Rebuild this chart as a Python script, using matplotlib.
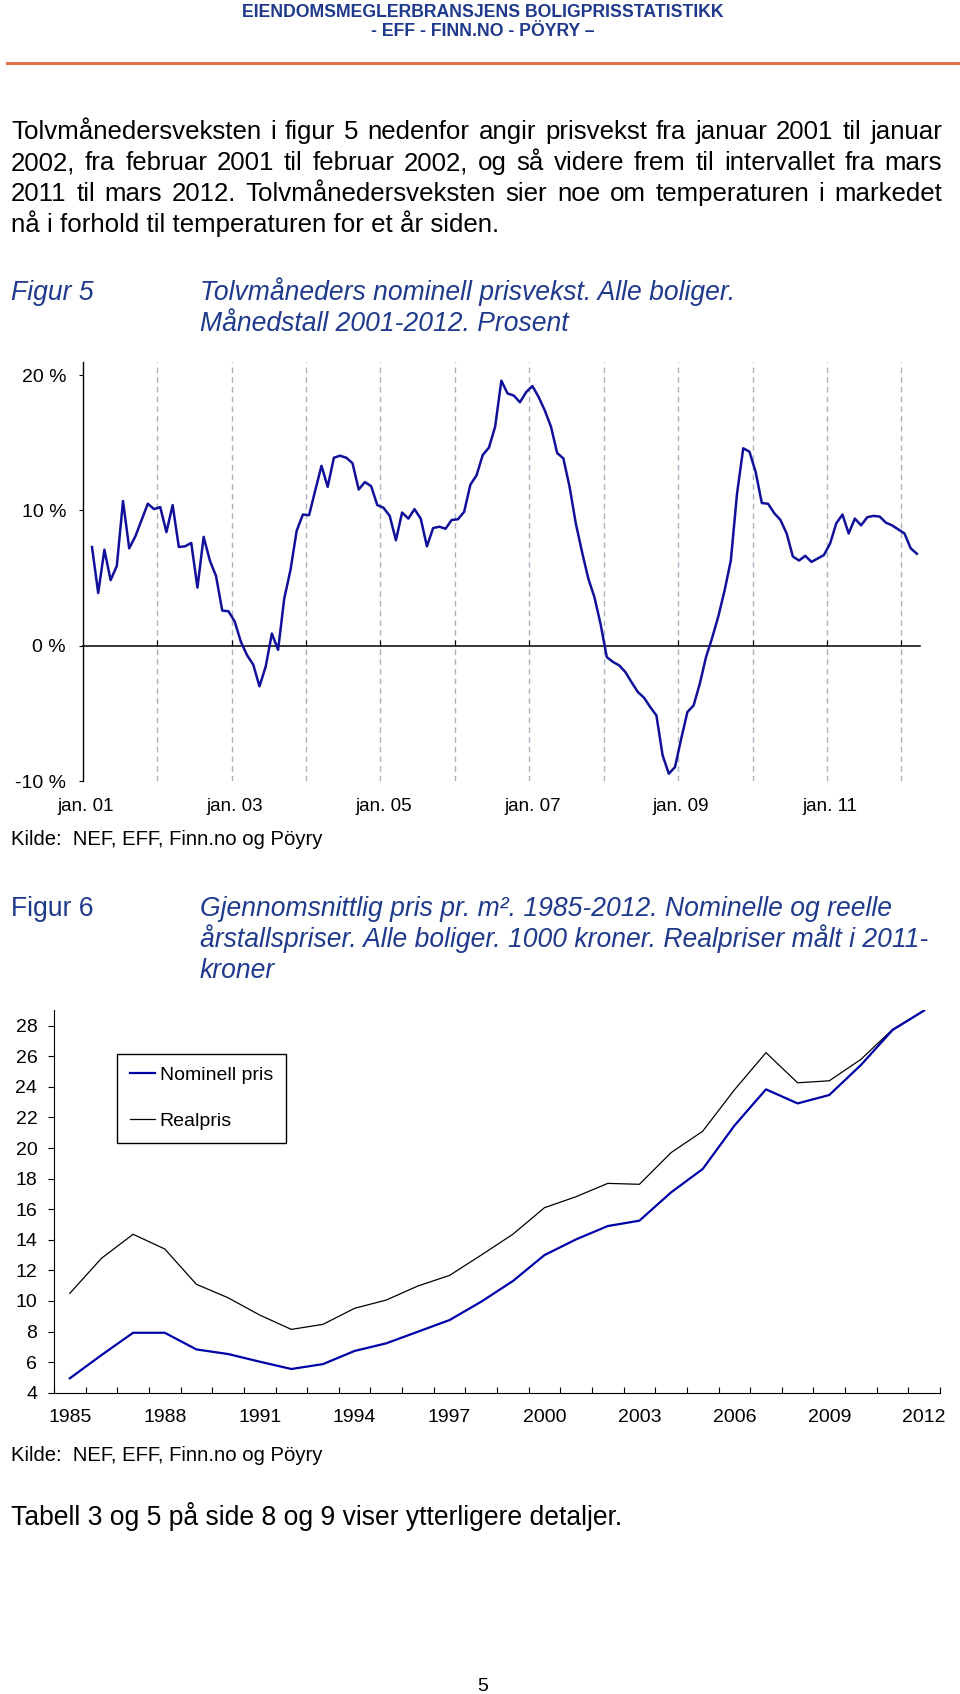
import numpy as np
import matplotlib.pyplot as plt

plt.rcParams['font.family'] = ['Liberation Sans', 'DejaVu Sans']
plt.rcParams['axes.unicode_minus'] = False

W, H = 960, 1694
BLUE_TXT = '#1f3a8c'
BIG = 19.1

# Figur 5: tolvmåneders prisvekst (prosent), en verdi per måned, første verdi feb. 01
maaned = np.arange(1, 135)
vekst = [7.3, 3.9, 7.1, 4.85, 5.9, 10.7, 7.2, 8.1, 9.3, 10.5,
         10.1, 10.25, 8.4, 10.4, 7.3, 7.35, 7.6, 4.3, 8.05, 6.3,
         5.15, 2.6, 2.55, 1.8, 0.3, -0.7, -1.4, -3.0, -1.55, 0.9,
         -0.3, 3.5, 5.6, 8.5, 9.7, 9.65, 11.5, 13.3, 11.75, 13.9,
         14.05, 13.9, 13.5, 11.55, 12.1, 11.8, 10.4, 10.2, 9.6, 7.8,
         9.85, 9.4, 10.1, 9.4, 7.35, 8.7, 8.8, 8.65, 9.3, 9.35,
         9.9, 11.9, 12.6, 14.1, 14.65, 16.2, 19.6, 18.65, 18.5, 18.0,
         18.75, 19.2, 18.4, 17.4, 16.2, 14.25, 13.85, 11.75, 9.05, 6.95,
         5.0, 3.6, 1.6, -0.84, -1.2, -1.45, -1.95, -2.7, -3.42, -3.84,
         -4.53, -5.15, -8.1, -9.46, -8.97, -6.87, -4.9, -4.41, -2.8, -0.84,
         0.6, 2.2, 4.1, 6.3, 11.25, 14.6, 14.35, 12.85, 10.55, 10.5,
         9.8, 9.3, 8.3, 6.6, 6.3, 6.65, 6.2, 6.45, 6.7, 7.55,
         9.05, 9.7, 8.3, 9.4, 8.9, 9.5, 9.6, 9.55, 9.1, 8.9,
         8.6, 8.3, 7.2, 6.8]
fig5_labels = ['jan. 01', 'jan. 03', 'jan. 05', 'jan. 07', 'jan. 09', 'jan. 11']
fig5_yticks = [-10, 0, 10, 20]
fig5_ylabels = ['-10 %', '0 %', '10 %', '20 %']

# Figur 6: gjennomsnittlig pris pr. m2, 1000 kroner
aar = np.arange(1985, 2013)
nominell = [4.94, 6.46, 7.92, 7.92, 6.83, 6.53, 6.03, 5.55, 5.87, 6.73,
            7.23, 7.99, 8.75, 9.95, 11.3, 13.0, 14.03, 14.9, 15.25, 17.1,
            18.63, 21.46, 23.84, 22.92, 23.47, 25.43, 27.72, 29.0]
real = [10.5, 12.79, 14.36, 13.4, 11.09, 10.21, 9.08, 8.14, 8.47, 9.52,
        10.06, 10.98, 11.67, 13.0, 14.36, 16.1, 16.82, 17.69, 17.63, 19.7,
        21.1, 23.8, 26.24, 24.27, 24.4, 25.8, 27.76, 29.0]

fig = plt.figure(figsize=(W / 100, H / 100), dpi=100)
renderer = fig.canvas.get_renderer()


def ftxt(x, y, s, **kw):
    # x, y in page pixels, y = baseline from top
    kw.setdefault('va', 'baseline')
    return fig.text(x / W, 1 - y / H, s, **kw)


def justified(x0, x1, y, s, **kw):
    # spread the words of one line so it fills x0..x1
    words = s.split(' ')
    txts = [ftxt(0, y, w, **kw) for w in words]
    widths = [t.get_window_extent(renderer).width for t in txts]
    gap = (x1 - x0 - sum(widths)) / (len(words) - 1)
    x = x0
    for t, w in zip(txts, widths):
        t.set_x(x / W)
        x += w + gap


def box(left, top, right, bottom):
    return [left / W, 1 - bottom / H, (right - left) / W, (bottom - top) / H]


# header
hdr = dict(family=['Liberation Sans Narrow', 'Liberation Sans'], weight='bold',
           color=BLUE_TXT, fontsize=12.7, ha='center')
ftxt(483, 17, 'EIENDOMSMEGLERBRANSJENS BOLIGPRISSTATISTIKK', **hdr)
ftxt(483, 36.5, '- EFF - FINN.NO - PÖYRY –', **hdr)
fig.add_artist(plt.Line2D([7 / W, 958 / W], [1 - 63 / H] * 2, color='#e2734f', lw=2.2))

para = ['Tolvmånedersveksten i figur 5 nedenfor angir prisvekst fra januar 2001 til januar',
        '2002, fra februar 2001 til februar 2002, og så videre frem til intervallet fra mars',
        '2011 til mars 2012. Tolvmånedersveksten sier noe om temperaturen i markedet',
        'nå i forhold til temperaturen for et år siden.']
for k, line in enumerate(para):
    if k < len(para) - 1:
        justified(11, 942, 139 + 31 * k, line, fontsize=18.6, color='black')
    else:
        ftxt(11, 139 + 31 * k, line, fontsize=18.6, color='black')

ftxt(11, 300, 'Figur 5', fontsize=BIG, style='italic', color=BLUE_TXT)
ftxt(200, 300, 'Tolvmåneders nominell prisvekst. Alle boliger.', fontsize=BIG,
     style='italic', color=BLUE_TXT)
ftxt(200, 331, 'Månedstall 2001-2012. Prosent', fontsize=BIG, style='italic', color=BLUE_TXT)

# ---- Figur 5 ----
ax5 = fig.add_axes(box(82.7, 361.7, 920, 781))
ax5.plot(maaned, vekst, color='#10109a', lw=1.8, zorder=3)
ax5.set_xlim(-0.5, 134.5)
ax5.set_ylim(-10, 21)
for s in ['top', 'right']:
    ax5.spines[s].set_visible(False)
ax5.spines['bottom'].set_position(('data', 0))
ax5.spines['bottom'].set_linewidth(1.1)
ax5.spines['left'].set_linewidth(1.0)
ax5.set_xticks(np.arange(11.5, 133, 12))
ax5.tick_params(axis='x', direction='in', length=4, labelbottom=False)
ax5.grid(axis='x', color='#aab0c0', lw=1, ls=(0, (4, 3)))
ax5.set_yticks(fig5_yticks, fig5_ylabels)
ax5.tick_params(axis='y', direction='out', length=3, pad=9, labelsize=14)
sec5 = ax5.secondary_xaxis('bottom')
sec5.set_xticks(np.arange(0, 121, 24), fig5_labels)
sec5.tick_params(length=0, pad=12, labelsize=13.5)
sec5.spines['bottom'].set_visible(False)

ftxt(11, 845, 'Kilde:  NEF, EFF, Finn.no og Pöyry', fontsize=14.6)

ftxt(11, 916, 'Figur 6', fontsize=BIG, color=BLUE_TXT)
title6 = ['Gjennomsnittlig pris pr. m². 1985-2012. Nominelle og reelle',
          'årstallspriser. Alle boliger. 1000 kroner. Realpriser målt i 2011-',
          'kroner']
for k, line in enumerate(title6):
    ftxt(200, 916 + 31 * k, line, fontsize=BIG, style='italic', color=BLUE_TXT)

# ---- Figur 6 ----
ax6 = fig.add_axes(box(54, 1010, 940, 1392.7))
l_real, = ax6.plot(aar, real, color='black', lw=0.9, label='Realpris')
l_nom, = ax6.plot(aar, nominell, color='#0000a8', lw=1.6, label='Nominell pris')
ax6.set_xlim(1984.5, 2012.5)
ax6.set_ylim(4, 29.03)
for s in ['top', 'right']:
    ax6.spines[s].set_visible(False)
ax6.set_xticks(np.arange(1984.5, 2013, 1))
ax6.tick_params(axis='x', which='major', direction='in', length=4, labelbottom=False)
ax6.set_xticks(aar[::3], [str(a) for a in aar[::3]], minor=True)
ax6.tick_params(axis='x', which='minor', length=0, pad=12, labelsize=14)
ax6.set_yticks(range(4, 29, 2))
ax6.tick_params(axis='y', direction='out', length=4, pad=8, labelsize=14)
leg = ax6.legend([l_nom, l_real], ['Nominell pris', 'Realpris'], loc='upper left',
                 bbox_to_anchor=(117 / W, 1 - 1054 / H), bbox_transform=fig.transFigure,
                 borderaxespad=0, fancybox=False, fontsize=14, labelspacing=1.45,
                 handlelength=1.3, handletextpad=0.25, borderpad=0.65,
                 edgecolor='black', framealpha=1)
leg.get_frame().set_linewidth(1.0)

ftxt(11, 1461, 'Kilde:  NEF, EFF, Finn.no og Pöyry', fontsize=14.6)
ftxt(11, 1525, 'Tabell 3 og 5 på side 8 og 9 viser ytterligere detaljer.', fontsize=BIG)
ftxt(483, 1691, '5', fontsize=14, ha='center')

fig.savefig('out.png', dpi=100)
